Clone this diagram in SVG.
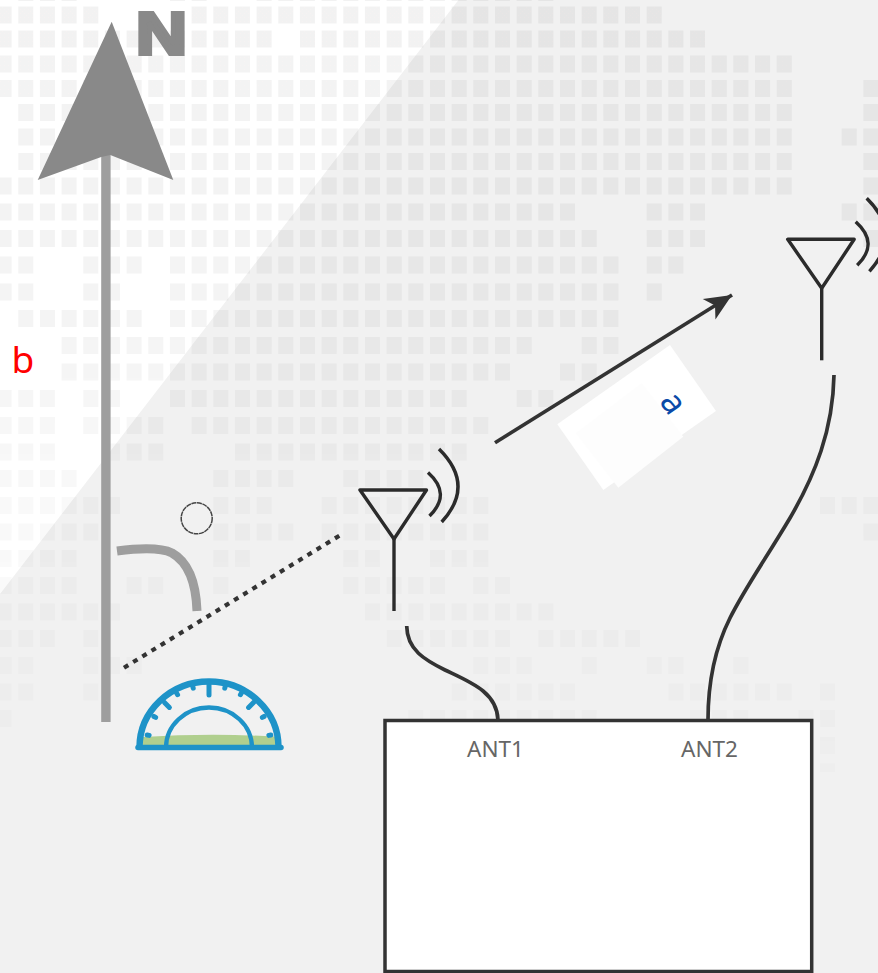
<svg xmlns="http://www.w3.org/2000/svg" width="878" height="973" viewBox="0 0 878 973">
<style>
.ink{fill:none;stroke:#2b2b2b;stroke-width:3.4;stroke-linecap:butt}
.wire{fill:none;stroke:#333;stroke-width:3.7}
.tick{stroke:#1e93c8;stroke-width:5;stroke-linecap:round}
.port{font-family:"Noto Sans","Liberation Sans",sans-serif;font-size:22.5px;fill:#666;text-anchor:middle}
.letter{font-family:"Noto Sans","Liberation Sans",sans-serif}
</style>
<defs>
<linearGradient id="dots" gradientUnits="userSpaceOnUse" x1="0" y1="0" x2="0" y2="780">
<stop offset="0" stop-color="#2a1a00" stop-opacity=".05"/>
<stop offset=".4" stop-color="#2a1a00" stop-opacity=".044"/>
<stop offset=".65" stop-color="#2a1a00" stop-opacity=".024"/>
<stop offset="1" stop-color="#2a1a00" stop-opacity=".012"/>
</linearGradient>
<filter id="soft" x="0" y="0" width="1" height="1" filterUnits="objectBoundingBox"><feGaussianBlur stdDeviation=".4"/></filter>
<marker id="head" markerUnits="userSpaceOnUse" markerWidth="30" markerHeight="28" refX="28" refY="14" orient="auto" overflow="visible">
<path d="M1 2L28 14L1 26L8 14Z" fill="#333"/>
</marker>
<g id="antenna">
<path class="ink" d="M360 490H426.500L394 539L360 490Z" stroke-linejoin="round"/>
<path class="ink" d="M394 539V611"/>
<path class="ink" d="M428 472.500Q452 494 429.500 516"/>
<path class="ink" d="M439 449Q475.600 485 441.700 522"/>
</g>
</defs>
<rect id="background" width="878" height="973" fill="#f1f1f1"/>
<polygon id="light-wedge" points="0,0 458.500,0 0,594" fill="#fff"/>
<path id="map-dots" filter="url(#soft)" fill="none" stroke="url(#dots)" stroke-width="17" stroke-dasharray="15 6.67" d="
M18.300 -7.500H76.600M170 -7.500H206.600M256.600 -7.500H553.400
M-3.400 15H98.300M191.600 15H661.700
M-3.400 39H271.600M300 39H705
M-3.400 64H791.700
M-3.400 88.500H791.700M863.400 88.500H878.400
M18.300 112.500H791.700M863.400 112.500H878.400
M18.300 137H791.700M841.700 137H878.400
M18.300 161.500H791.700M863.400 161.500H878.400
M-3.400 186H791.700M863.400 186H878.400
M-3.400 212H575M646.700 212H705M841.700 212H878.400
M-3.400 238.500H596.700M646.700 238.500H705M863.400 238.500H878.400
M-3.400 265H33.300M83.300 265H141.600M170 265H618.400M646.700 265H683.400
M-3.400 292H33.300M83.300 292H120M170 292H618.400M646.700 292H661.700
M18.300 318.500H141.600M170 318.500H618.400
M61.600 345.500H531.700M581.700 345.500H618.400
M61.600 372H510M560 372H596.700
M-3.400 398.500H54.900M83.300 398.500H120M170 398.500H466.700M516.700 398.500H553.400
M-3.400 425.500H54.900M83.300 425.500H163.300M191.600 425.500H488.300
M-3.400 452H54.900M105 452H163.300M235 452H466.700
M-3.400 478.500H76.600M213.300 478.500H293.300M343.300 478.500H423.300
M-3.400 505.500H120M213.300 505.500H271.600M321.700 505.500H488.300M820 505.500H878.400
M-3.400 532H98.300M213.300 532H293.300M321.700 532H488.300M863.400 532H878.400
M-3.400 558.500H76.600M213.300 558.500H250M343.300 558.500H380M430 558.500H488.300
M-3.400 585.500H76.600M126.600 585.500H163.300M213.300 585.500H228.300M343.300 585.500H445M473.300 585.500H510
M-3.400 612H120M365 612H553.400
M-3.400 638.500H54.900M83.300 638.500H98.300M386.700 638.500H510M538.400 638.500H640
M-3.400 665.500H33.300M83.300 665.500H141.600M473.300 665.500H531.700M581.700 665.500H596.700M646.700 665.500H683.400M733.400 665.500H748.400
M-3.400 692H33.300M83.300 692H98.300M451.700 692H575M668.400 692H791.700M820 692H835
M-3.400 718.500H11.600M408.300 718.500H596.700M690 718.500H748.400M798.400 718.500H835
M820 745.500H835
M820 772H835"/>
<g id="north-arrow">
<rect x="101.200" y="153" width="9.400" height="569" fill="#9e9e9e"/>
<polygon points="111.700,21.700 173.300,180 110.300,155 101.200,157 37.700,180" fill="#898989"/>
<text x="136" y="54" font-size="60" font-weight="700" fill="#898989" stroke="#898989" stroke-width="4" textLength="51" lengthAdjust="spacingAndGlyphs" style="font-family:'Liberation Sans',sans-serif">N</text>
</g>
<g id="label-b"><text class="letter" x="11.500" y="372.500" font-size="37" fill="#ff0000">b</text></g>
<g id="angle-mark">
<path d="M117 551C140 548 160 547 172 553C188 562 196 582 197 611" fill="none" stroke="#9e9e9e" stroke-width="9"/>
<circle cx="196.700" cy="518.300" r="15.500" fill="none" stroke="#444" stroke-width="1.500" stroke-dasharray="5 .6"/>
</g>
<g id="protractor">
<path d="M143 737Q209 733 275 736.500V745.500H143Z" fill="#b0cf8e"/>
<path d="M139.500 747.500A69.500 66 0 0 1 278.500 747.500" fill="none" stroke="#1e93c8" stroke-width="6.500"/>
<path d="M166 747.500A43 40 0 0 1 252 747.500" fill="none" stroke="#1e93c8" stroke-width="4.300"/>
<path d="M138 747.500H281" fill="none" stroke="#1e93c8" stroke-width="5.500" stroke-linecap="round"/>
<line class="tick" x1="209" y1="682" x2="209" y2="695"/>
<line class="tick" x1="209" y1="683" x2="209" y2="686" transform="rotate(-15 209 747)"/>
<line class="tick" x1="209" y1="683" x2="209" y2="686" transform="rotate(15 209 747)"/>
<line class="tick" x1="209" y1="684" x2="209" y2="686" transform="rotate(-31 209 747)"/>
<line class="tick" x1="209" y1="684" x2="209" y2="686" transform="rotate(31 209 747)"/>
<line class="tick" x1="209" y1="684" x2="209" y2="691" transform="rotate(-45 209 747)"/>
<line class="tick" x1="209" y1="684" x2="209" y2="691" transform="rotate(45 209 747)"/>
<line class="tick" x1="209" y1="684" x2="209" y2="686" transform="rotate(-61 209 747)"/>
<line class="tick" x1="209" y1="684" x2="209" y2="686" transform="rotate(61 209 747)"/>
<line class="tick" x1="209" y1="684" x2="209" y2="686" transform="rotate(-79 209 747)"/>
<line class="tick" x1="209" y1="684" x2="209" y2="686" transform="rotate(79 209 747)"/>
</g>
<g id="antenna-1"><use href="#antenna"/></g>
<g id="antenna-2"><use href="#antenna" transform="translate(427.700 -250.700)"/></g>
<g id="label-a">
<polygon points="557.300,424.300 670,345 716,411 603.300,490" fill="#fff"/>
<polygon points="576,433.300 641.700,383.300 683.300,436.700 618.300,487.700" fill="#fdfdfd"/>
<text class="letter" x="0" y="0" font-size="34" fill="#0b4aa8" text-anchor="middle" transform="translate(664.300 409.200) rotate(55)">a</text>
</g>
<g id="device">
<rect x="385" y="720.500" width="426.700" height="251" fill="#fff" stroke="#333" stroke-width="3.500"/>
<text class="port" x="495.500" y="757">ANT1</text>
<text class="port" x="709.500" y="757">ANT2</text>
</g>
<g id="connectors">
<path class="wire" d="M495 442.700L732 295" marker-end="url(#head)"/>
<path class="wire" stroke-dasharray="5 5.760" d="M124 667.700L341.700 534.300" style="stroke-width:4.200"/>
<path class="wire" d="M406.700 626C407 650 425 660 445 670C470 682 497 692 498 720"/>
<path class="wire" d="M834 375C833 430 815 475 790 518C765 560 745 588 730 618C716 646 708 680 708 720"/>
</g>
</svg>
